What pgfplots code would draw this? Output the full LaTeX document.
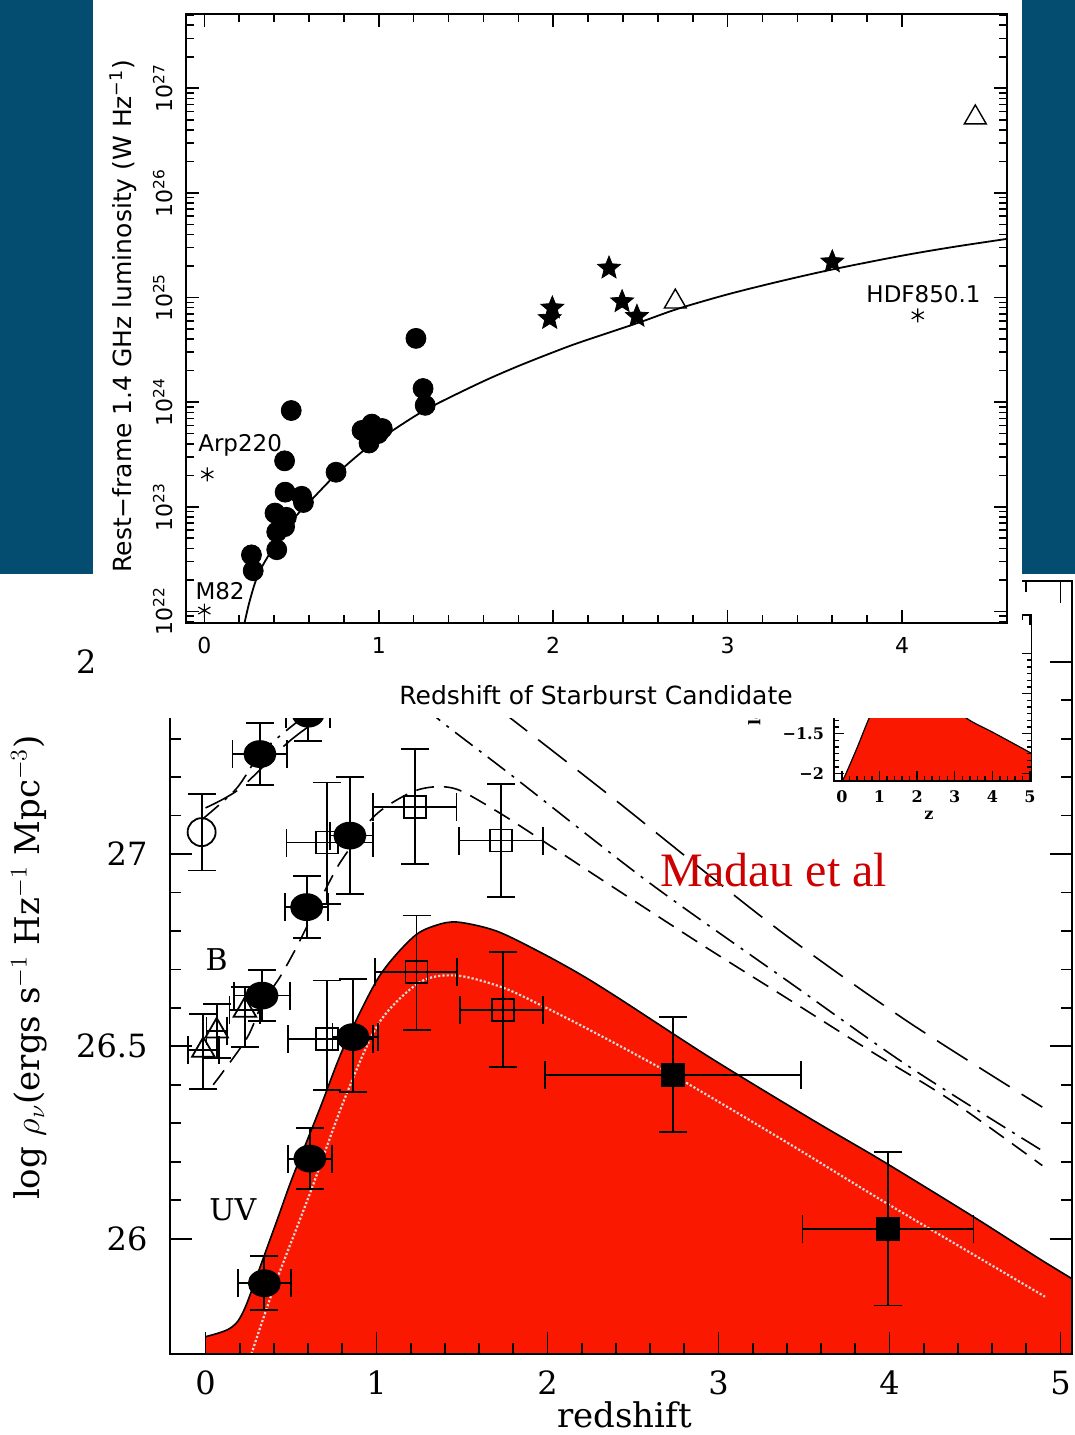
\documentclass[border=0pt]{standalone}
\usepackage{pgfplots}
\pgfplotsset{compat=1.18}
\usepackage{fontspec}
\setmainfont{DejaVu Serif}
\newfontfamily\topfont{DejaVu Sans}
\newfontfamily\madaufont{Liberation Serif}
\definecolor{slideblue}{RGB}{4,77,113}
\definecolor{madred}{RGB}{250,24,0}
\definecolor{txtred}{RGB}{204,0,0}
\pgfdeclareplotmark{fstar}{%
 \pgfpathmoveto{\pgfqpoint{0pt}{\pgfplotmarksize}}%
 \pgfpathlineto{\pgfqpoint{0.26\pgfplotmarksize}{0.36\pgfplotmarksize}}%
 \pgfpathlineto{\pgfqpoint{0.951\pgfplotmarksize}{0.309\pgfplotmarksize}}%
 \pgfpathlineto{\pgfqpoint{0.42\pgfplotmarksize}{-0.137\pgfplotmarksize}}%
 \pgfpathlineto{\pgfqpoint{0.588\pgfplotmarksize}{-0.809\pgfplotmarksize}}%
 \pgfpathlineto{\pgfqpoint{0pt}{-0.44\pgfplotmarksize}}%
 \pgfpathlineto{\pgfqpoint{-0.588\pgfplotmarksize}{-0.809\pgfplotmarksize}}%
 \pgfpathlineto{\pgfqpoint{-0.42\pgfplotmarksize}{-0.137\pgfplotmarksize}}%
 \pgfpathlineto{\pgfqpoint{-0.951\pgfplotmarksize}{0.309\pgfplotmarksize}}%
 \pgfpathlineto{\pgfqpoint{-0.26\pgfplotmarksize}{0.36\pgfplotmarksize}}%
 \pgfpathclose
 \pgfusepathqfillstroke}
\pgfplotsset{
  ebar/.style={only marks, black, line width=0.9pt,
    error bars/x dir=both, error bars/x explicit,
    error bars/y dir=both, error bars/y explicit,
    error bars/error bar style={line width=0.9pt, solid},
    error bars/error mark options={rotate=90, mark size=7pt, line width=0.9pt, solid}},
}
\begin{document}
\begin{tikzpicture}
\useasboundingbox (0,0) rectangle (537.5pt,717.5pt);
\fill[white] (0,0) rectangle (537.5pt,717.5pt);

% ---------------- bottom (Madau) plot ----------------
\begin{axis}[
 at={(85.25pt,40.5pt)}, anchor=south west, scale only axis,
 width=450.6pt, height=386.5pt,
 xmin=-0.205, xmax=5.065, ymin=25.70, ymax=27.71,
 axis on top, tick align=inside,
 xtick={0,1,2,3,4,5}, xticklabels={0,1,2,3,4,5}, minor x tick num=4,
 ytick={26,26.5,27,27.5}, yticklabels={26,26.5,27,27.5}, minor y tick num=4,
 major tick length=11pt, minor tick length=5.5pt,
 every tick/.append style={line width=0.9pt, black},
 axis line style={line width=1pt},
 tick label style={font=\fontsize{16}{19}\selectfont},
 xticklabel shift=5pt, yticklabel shift=8pt,
 xlabel={redshift},
 ylabel={log $\rho_\nu$(ergs s$^{-1}$ Hz$^{-1}$ Mpc$^{-3}$)},
 xlabel style={at={(axis description cs:0.504,-0.079)}, anchor=center, font=\fontsize{17}{20}\selectfont},
 ylabel style={at={(axis description cs:-0.157,0.5)}, anchor=center, font=\fontsize{17}{20}\selectfont},
]
\addplot[draw=none, fill=madred, smooth] coordinates {(0,25.745) (0.08,25.755) (0.14,25.766) (0.19,25.786) (0.24,25.83) (0.33,25.94) (0.42,26.05) (0.509,26.16) (0.67,26.34) (0.81,26.50) (1.013,26.68) (1.214,26.784) (1.35,26.815) (1.476,26.823) (1.7,26.80) (1.956,26.745) (2.2,26.685) (2.434,26.62) (2.953,26.47) (3.552,26.308) (3.951,26.204) (4.49,26.057) (4.889,25.944) (5.2,25.86)} \closedcycle;
\addplot[black, line width=0.8pt, smooth] coordinates {(0,25.745) (0.08,25.755) (0.14,25.766) (0.19,25.786) (0.24,25.83) (0.33,25.94) (0.42,26.05) (0.509,26.16) (0.67,26.34) (0.81,26.50) (1.013,26.68) (1.214,26.784) (1.35,26.815) (1.476,26.823) (1.7,26.80) (1.956,26.745) (2.2,26.685) (2.434,26.62) (2.953,26.47) (3.552,26.308) (3.951,26.204) (4.49,26.057) (4.889,25.944) (5.2,25.86)};
\addplot[smooth, white!70!gray, line width=1.1pt, densely dotted] coordinates {(0.268,25.70) (0.409,25.884) (0.61,26.117) (0.81,26.36) (1.013,26.56) (1.254,26.667) (1.468,26.684) (1.731,26.654) (1.97,26.605) (2.3,26.53) (2.734,26.425) (3.4,26.25) (3.99,26.09) (4.909,25.849)};
% B-band dashed
\addplot[smooth, black, line width=0.8pt, dash pattern=on 9pt off 5pt] coordinates {(0.045,26.40) (0.24,26.52) (0.33,26.61) (0.435,26.68) (0.523,26.75) (0.591,26.81) (0.727,26.93) (0.805,26.99) (0.99,27.10) (1.2,27.16) (1.35,27.175) (1.49,27.165) (1.73,27.104) (1.97,27.035) (2.328,26.93) (2.924,26.758) (3.4,26.625) (3.88,26.49) (4.357,26.36) (4.893,26.19)};
% dash-dot
\addplot[smooth, black, line width=0.8pt, dash pattern=on 11pt off 4pt on 1.5pt off 4pt] coordinates {(-0.02,27.09) (0.18,27.17) (0.318,27.26) (0.47,27.32) (0.57,27.355) (0.8,27.43) (1.05,27.46) (1.2,27.42) (1.361,27.351) (1.803,27.2) (2.59,26.927) (3.40,26.671) (4.118,26.446) (4.906,26.225)};
% long dash
\addplot[smooth, black, line width=0.8pt, dash pattern=on 18pt off 7pt] coordinates {(0.0,27.12) (0.2,27.17) (0.474,27.287) (0.65,27.347) (0.9,27.43) (1.2,27.48) (1.5,27.45) (1.79,27.351) (2.375,27.148) (3.33,26.81) (4.094,26.568) (4.893,26.342)};
% filled circles
\addplot[ebar, mark=*, mark size=6.5pt, mark options={xscale=1.2, fill=black, draw=black}] coordinates {
 (0.318,27.26) +- (0.16,0.08)
 (0.60,27.365) +- (0.13,0.072)
 (0.844,27.048) += (0.135,0.152) -= (0.115,0.151)
 (0.591,26.862) +- (0.126,0.08)
 (0.33,26.632) +- (0.165,0.067)
 (0.862,26.524) += (0.145,0.152) -= (0.12,0.143)
 (0.61,26.208) +- (0.13,0.08)
 (0.344,25.884) +- (0.155,0.07)
};
% open squares
\addplot[ebar, mark=square, mark size=5.5pt, mark options={solid, line width=0.9pt}] coordinates {
 (0.708,27.03) += (0.27,0.156) -= (0.235,0.16)
 (0.708,26.52) += (0.27,0.151) -= (0.225,0.134)
 (1.224,27.122) += (0.244,0.151) -= (0.243,0.147)
 (1.234,26.693) += (0.236,0.147) -= (0.244,0.151)
 (1.728,27.035) +- (0.245,0.147)
 (1.738,26.594) += (0.235,0.151) -= (0.252,0.148)
};
% filled squares
\addplot[ebar, mark=square*, mark size=5.5pt] coordinates {
 (2.734,26.425) += (0.748,0.151) -= (0.749,0.148)
 (3.991,26.026) +- (0.5,0.2)
};
% triangles
\addplot[ebar, mark=triangle, mark size=6.5pt, mark options={solid, line width=0.9pt}] coordinates {
 (-0.013,26.49) += (0.09,0.095) -= (0.09,0.10)
 (0.065,26.54) +- (0.06,0.07)
 (0.23,26.594) += (0.09,0.06) -= (0.09,0.096)
};
% open circle
\addplot[only marks, black, mark=o, mark size=7pt, line width=0.9pt,
 error bars/y dir=both, error bars/y explicit,
 error bars/error bar style={line width=0.9pt},
 error bars/error mark options={rotate=90, mark size=7pt, line width=0.9pt}] coordinates {(-0.023,27.057) +- (0,0.1)};
\node[font=\fontsize{15}{18}\selectfont] at (axis cs:0.065,26.726) {B};
\node[font=\fontsize{15}{18}\selectfont] at (axis cs:0.16,26.074) {UV};
\node[anchor=base west, inner sep=0pt, font=\madaufont\fontsize{24}{24}\selectfont, text=txtred] at (axis cs:2.658,26.916) {Madau et al};
\end{axis}

% ---------------- inset ----------------
\begin{axis}[
 at={(417pt,327pt)}, anchor=south west, scale only axis,
 width=98.75pt, height=83pt,
 xmin=-0.21, xmax=5.04, ymin=-2.09, ymax=-0.02,
 axis on top, axis background/.style={fill=white}, tick align=inside,
 xtick={0,1,2,3,4,5}, xticklabels={0,1,2,3,4,5}, minor x tick num=4,
 ytick={-2,-1.5,-1,-0.5}, yticklabels={−2,−1.5,−1,−0.5}, minor y tick num=5,
 major tick length=5pt, minor tick length=2.5pt,
 every tick/.append style={line width=0.7pt, black},
 axis line style={line width=0.9pt},
 tick label style={font=\bfseries\fontsize{8}{9}\selectfont},
 xticklabel shift=1.5pt, yticklabel shift=1.5pt,
 xlabel={z}, ylabel={log $\dot{\rho}_*$},
 xlabel style={at={(axis description cs:0.481,-0.205)}, anchor=center, font=\bfseries\fontsize{8}{9}\selectfont},
 ylabel style={at={(axis description cs:-0.395,0.289)}, anchor=west, font=\bfseries\fontsize{8}{9}\selectfont},
]
\addplot[draw=none, fill=madred, smooth] coordinates {(0.0,-2.2) (0.0,-2.06) (0.066,-2.04) (0.4,-1.68) (0.72,-1.31) (1.0,-1.05) (1.5,-0.85) (2.0,-0.85) (2.5,-1.0) (3.32,-1.31) (4.0,-1.48) (5.06,-1.75) (5.2,-1.78) (5.2,-2.2)};
\addplot[black, line width=0.6pt, smooth] coordinates {(0.0,-2.07) (0.066,-2.04) (0.4,-1.68) (0.72,-1.31) (1.0,-1.05) (1.5,-0.85) (2.0,-0.85) (2.5,-1.0) (3.32,-1.31) (4.0,-1.48) (5.06,-1.75)};
\end{axis}

% ---------------- slide panels ----------------
\fill[white] (46.5pt,358.5pt) rectangle (511pt,717.5pt);
\fill[slideblue] (0pt,430.5pt) rectangle (46.5pt,717.5pt);
\fill[slideblue] (511pt,430.5pt) rectangle (537.5pt,717.5pt);

% ---------------- top (radio) plot ----------------
\begin{axis}[
 at={(92.85pt,406pt)}, anchor=south west, scale only axis,
 width=410.5pt, height=304.5pt,
 xmin=-0.107, xmax=4.60, ymode=log, ymin=7.76e21, ymax=5.13e27,
 tick align=inside,
 xtick={0,1,2,3,4}, xticklabels={0,1,2,3,4}, minor x tick num=4,
 ytick={1e22,1e23,1e24,1e25,1e26,1e27},
 yticklabels={{10\textsuperscript{22}},{10\textsuperscript{23}},{10\textsuperscript{24}},{10\textsuperscript{25}},{10\textsuperscript{26}},{10\textsuperscript{27}}},
 minor ytick={8e21,9e21,2e22,3e22,4e22,5e22,6e22,7e22,8e22,9e22,2e23,3e23,4e23,5e23,6e23,7e23,8e23,9e23,2e24,3e24,4e24,5e24,6e24,7e24,8e24,9e24,2e25,3e25,4e25,5e25,6e25,7e25,8e25,9e25,2e26,3e26,4e26,5e26,6e26,7e26,8e26,9e26,2e27,3e27,4e27,5e27},
 major tick length=6.5pt, minor tick length=4pt,
 every tick/.append style={line width=0.8pt, black},
 axis line style={line width=1pt},
 tick label style={font=\topfont\fontsize{11}{13}\selectfont},
 yticklabel style={rotate=90, anchor=south},
 xticklabel shift=3.5pt, yticklabel shift=3pt,
 xlabel={Redshift of Starburst Candidate},
 ylabel={Rest−frame 1.4 GHz luminosity (W Hz\textsuperscript{−1})},
 xlabel style={at={(axis description cs:0.4998,-0.118)}, anchor=center, font=\topfont\fontsize{12.5}{15}\selectfont},
 ylabel style={at={(axis description cs:-0.0764,0.504)}, anchor=center, font=\topfont\fontsize{12.5}{15}\selectfont},
]
\addplot[black, line width=0.9pt, smooth] coordinates {(0.225,7.08e21) (0.26,1.26e22) (0.31,2.29e22) (0.40,4.17e22) (0.52,7.94e22) (0.60,1.10e23) (0.75,2.00e23) (0.90,3.31e23) (1.00,4.37e23) (1.20,7.24e23) (1.34,9.77e23) (1.60,1.585e24) (1.80,2.213e24) (2.00,3.0e24) (2.155,3.74e24) (2.50,5.83e24) (2.71,7.76e24) (3.00,1.072e25) (3.30,1.429e25) (3.605,1.862e25) (4.00,2.512e25) (4.30,3.055e25) (4.60,3.631e25)};
\addplot[only marks, mark=*, mark size=5pt, black] coordinates {(1.213,4.07e24) (1.254,1.35e24) (1.266,9.33e23) (0.498,8.32e23) (0.46,2.75e23) (0.904,5.37e23) (0.96,6.17e23) (0.996,5.01e23) (0.944,4.07e23) (1.02,5.6e23) (0.755,2.14e23) (0.463,1.38e23) (0.558,1.26e23) (0.568,1.10e23) (0.405,8.71e22) (0.47,7.94e22) (0.415,5.75e22) (0.46,6.46e22) (0.415,3.89e22) (0.27,3.47e22) (0.28,2.45e22)};
\addplot[only marks, mark=fstar, mark size=6pt, black] coordinates {(1.995,7.94e24) (1.98,6.31e24) (2.32,1.91e25) (2.395,9.12e24) (2.48,6.61e24) (3.60,2.19e25)};
\addplot[only marks, mark=triangle, mark size=6.3pt, black, line width=0.7pt] coordinates {(2.70,9.12e24) (4.42,5.25e26)};
\addplot[only marks, mark=asterisk, mark size=3.5pt, black, line width=0.6pt] coordinates {(0.017,2.04e23) (0.0,1.02e22) (4.09,6.76e24)};
\node[font=\topfont\fontsize{11.5}{13}\selectfont] at (axis cs:0.205,3.9e23) {Arp220};
\node[font=\topfont\fontsize{11.5}{13}\selectfont] at (axis cs:0.09,1.55e22) {M82};
\node[font=\topfont\fontsize{11.5}{13}\selectfont] at (axis cs:4.123,1.07e25) {HDF850.1};
\end{axis}
\end{tikzpicture}
\end{document}
